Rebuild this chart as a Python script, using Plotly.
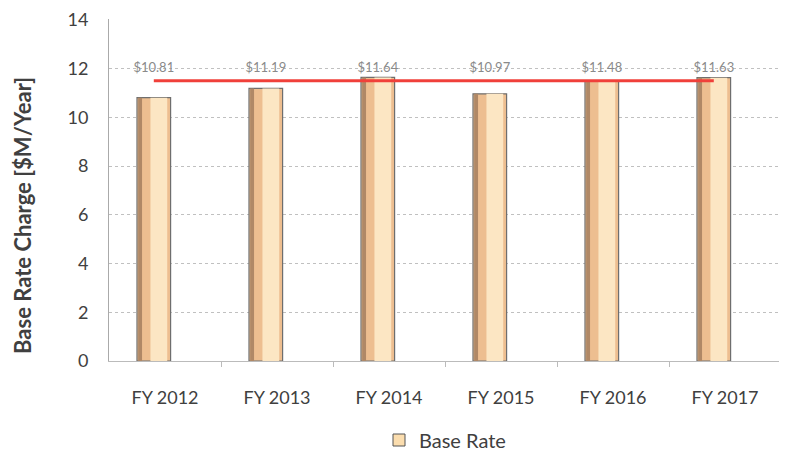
import numpy as np
import plotly.graph_objects as go

categories = ["FY 2012", "FY 2013", "FY 2014", "FY 2015", "FY 2016", "FY 2017"]
base_rate = [10.81, 11.19, 11.64, 10.97, 11.48, 11.63]
reference_line = [11.5, 11.5, 11.5, 11.5, 11.5, 11.5]
label_text = ["$10.81", "$11.19", "$11.64", "$10.97", "$11.48", "$11.63"]
y_ticks = [0, 2, 4, 6, 8, 10, 12, 14]

idx = np.arange(len(categories))
shift = -0.1  # 3D-style offset of the cylinders
bw = 0.3

fig = go.Figure()

# outer cylinder body
fig.add_trace(go.Bar(
    x=idx, y=base_rate, width=bw, offset=shift - bw / 2,
    marker=dict(color="#EDBE90", line=dict(color="#6e6e6e", width=1.2)),
    showlegend=False, hoverinfo="skip"))
# dark left edge
fig.add_trace(go.Bar(
    x=idx, y=base_rate, width=0.035, offset=shift - bw / 2 + 0.01,
    marker=dict(color="#B08866", line=dict(width=0)),
    showlegend=False, hoverinfo="skip"))
# highlight band
fig.add_trace(go.Bar(
    x=idx, y=base_rate, width=0.15, offset=shift - 0.03,
    marker=dict(color="#FCE6C3", line=dict(width=0)),
    showlegend=False, hoverinfo="skip"))
# legend entry
fig.add_trace(go.Bar(
    x=[None], y=[None], name="Base Rate",
    marker=dict(color="#FBDDAE", line=dict(color="#555555", width=1))))

fig.add_trace(go.Scatter(
    x=idx + shift, y=reference_line, mode="lines",
    line=dict(color="#F0403A", width=3), showlegend=False, hoverinfo="skip"))

fig.add_trace(go.Scatter(
    x=idx + shift, y=[max(base_rate) + 0.35] * len(base_rate), mode="text",
    text=label_text, textfont=dict(family="Lato", size=13, color="#8a8a8a"),
    showlegend=False, hoverinfo="skip"))

fig.add_annotation(
    text="<b>Base Rate Charge [$M/Year]</b>", textangle=-90,
    xref="paper", yref="paper", x=-0.128, y=0.427,
    xanchor="center", yanchor="middle", showarrow=False,
    font=dict(size=22, color="#404040"))

fig.update_layout(
    width=787, height=454,
    margin=dict(l=101, r=14, t=11, b=101, autoexpand=False),
    paper_bgcolor="white", plot_bgcolor="white",
    barmode="overlay",
    font=dict(family="Lato", color="#404040"),
    showlegend=True,
    legend=dict(orientation="h", x=0.5, xanchor="center", y=-0.231, yanchor="middle",
                font=dict(size=20, color="#404040")),
    xaxis=dict(range=[-0.5, 5.5], tickvals=idx, ticktext=categories,
               tickfont=dict(size=18, color="#404040"), showgrid=False,
               showline=True, linecolor="#bbbbbb", zeroline=False, ticks="",
               ticklabelstandoff=20, automargin=False,
               minor=dict(tickvals=[0.5, 1.5, 2.5, 3.5, 4.5], ticks="outside",
                          ticklen=5, tickcolor="#bbbbbb")),
    yaxis=dict(range=[0, 14.04], tickvals=y_ticks, tickfont=dict(size=18, color="#404040"),
               showgrid=True, gridcolor="#c0c0c0", griddash="dot",
               showline=True, linecolor="#aaaaaa", zeroline=False,
               ticklabelstandoff=16, automargin=False, ticklabeloverflow="allow"),
)

fig.write_html("out.html")
